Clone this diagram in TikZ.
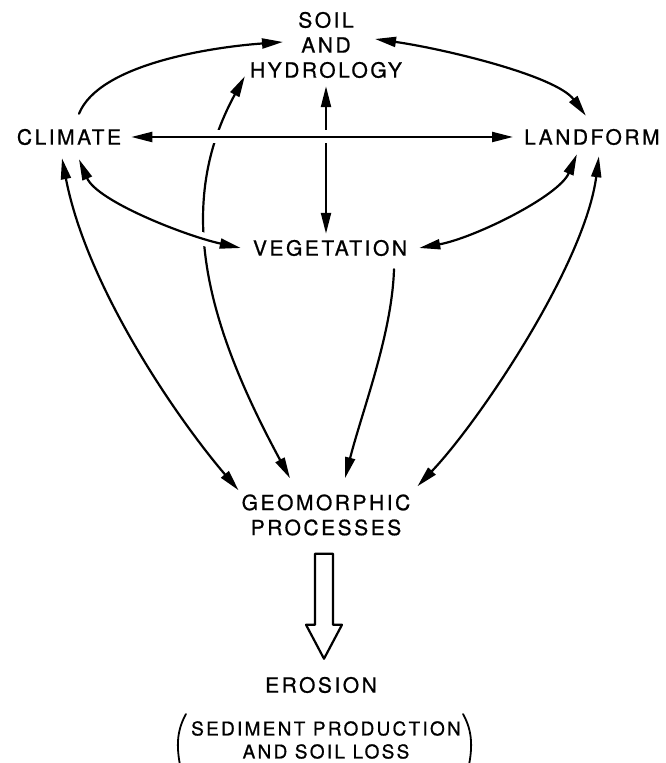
\documentclass[tikz,border=0pt]{standalone}
\usepackage{fontspec}
\usetikzlibrary{arrows.meta}
\newfontfamily\letterfont[LetterSpace=12,FakeBold=0.8]{TeX Gyre Heros}
\begin{document}
\begin{tikzpicture}[x=1pt, y=1pt, line join=round, line cap=round,
  >={Triangle[length=21pt,width=10pt]},
  lbl/.style={inner sep=0pt, align=center, font=\letterfont\fontsize{21}{25}\selectfont},
  link/.style={line width=2.2pt},
  bridge/.style={draw=white, line width=13pt, shorten <=24pt, shorten >=24pt},
  paren/.style={line width=1.8pt}]
\useasboundingbox (0,0) rectangle (665,763);
\clip (0,0) rectangle (665,763);
\node[lbl] (soil) at (326,718) {SOIL\\AND\\HYDROLOGY};
\node[lbl] (clim) at (69,626) {CLIMATE};
\node[lbl, anchor=west] (land) at (524,626) {LANDFORM};
\node[lbl] (veg) at (330,515) {VEGETATION};
\node[lbl] (geo) at (326,248) {GEOMORPHIC\\PROCESSES};
\node[lbl] (ero) at (321,78) {EROSION};
\node[lbl, font=\letterfont\fontsize{19}{23}\selectfont] (sed) at (326,23) {SEDIMENT PRODUCTION\\AND SOIL LOSS};
\draw[link,->] ([shift={(10,15)}]clim.north) .. controls +(20,50) and +(-70,-5) .. ([shift={(-43,3)}]soil.center);
\draw[link,<->] ([shift={(49,6)}]soil.center) .. controls +(70,-10) and +(-30,40) .. ([shift={(-6,13)}]land.north);
\draw[link,<->] ([shift={(-5,2)}]soil.south west) .. controls +(-70,-128) and +(-85,157) .. ([shift={(-36,16)}]geo.north);
\draw[bridge] ([shift={(10,-14)}]clim.south) .. controls +(18,-42) and +(-55,12) .. ([xshift=-12]veg.west);
\draw[link,<->] ([shift={(10,-14)}]clim.south) .. controls +(18,-42) and +(-55,12) .. ([xshift=-12]veg.west);
\draw[link,<->] ([shift={(-15,-9)}]land.south) .. controls +(-18,-42) and +(55,10) .. ([xshift=12]veg.east);
\draw[link,<->] ([shift={(-7,-13)}]clim.south) .. controls +(25,-130) and +(-60,70) .. ([shift={(-3,4)}]geo.north west);
\draw[link,->] ([shift={(64,-13)}]veg.south) .. controls +(-2,-65) and +(17,67) .. ([shift={(19,16)}]geo.north);
\draw[link,<->] ([shift={(7,-11)}]land.south) .. controls +(-14,-108) and +(62,65) .. ([shift={(7,8)}]geo.north east);
\draw[link,<->, shorten <=8pt, shorten >=6pt] (soil.south) -- (soil.south |- veg.north);
\draw[bridge] (clim.east) -- (land.west);
\draw[link,<->, shorten <=10pt, shorten >=11pt] (clim.east) -- (land.west);
\draw[link] ([shift={(-11,-18)}]geo.south) -- ++(18,0) -- ++(0,-71) -- ++(9,0) -- ++(-18,-34) -- ++(-18,34) -- ++(9,0) -- cycle;
\draw[paren] ([shift={(-5,7)}]sed.north west) .. controls +(-10,-18) and +(-6,25) .. ++(-4,-60);
\draw[paren] ([shift={(2,7)}]sed.north east) .. controls +(10,-18) and +(6,25) .. ++(4,-60);
\end{tikzpicture}
\end{document}
